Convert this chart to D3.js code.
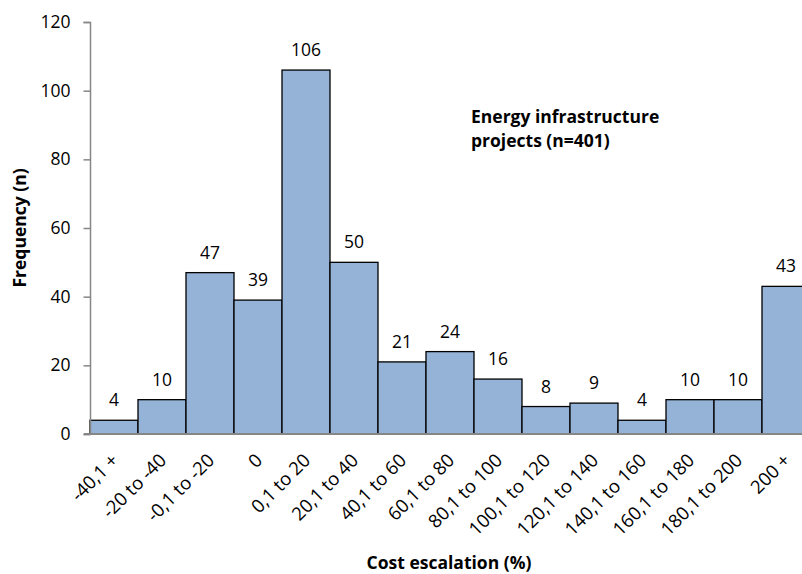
<!DOCTYPE html>
<html>
<head>
<meta charset="utf-8">
<script src="https://cdn.jsdelivr.net/npm/d3@7"></script>
<style>
  html, body { margin: 0; padding: 0; background: #fff; }
  svg { display: block; font-family: "Open Sans", "Noto Sans", sans-serif; }
</style>
</head>
<body>
<svg id="chart" width="802" height="574"></svg>
<script>
// Cost escalation bins and project counts
const categories = ["-40,1 +", "-20 to -40", "-0,1 to -20", "0", "0,1 to 20", "20,1 to 40",
  "40,1 to 60", "60,1 to 80", "80,1 to 100", "100,1 to 120", "120,1 to 140",
  "140,1 to 160", "160,1 to 180", "180,1 to 200", "200 +"];
const frequency = [4, 10, 47, 39, 106, 50, 21, 24, 16, 8, 9, 4, 10, 10, 43];
const yTicks = [0, 20, 40, 60, 80, 100, 120];
const titleLines = ["Energy infrastructure", "projects (n=401)"];
const xTitle = "Cost escalation (%)";
const yTitle = "Frequency (n)";

const svg = d3.select("#chart");
const plotLeft = 90, plotRight = 810, plotTop = 22, plotBottom = 434;
const fs = 17.5;

const x = d3.scaleBand().domain(categories).range([plotLeft, plotRight]).padding(0);
const y = d3.scaleLinear().domain([0, 120]).range([plotBottom, plotTop]);

// bars
svg.append("g").selectAll("rect")
  .data(categories)
  .join("rect")
  .attr("x", d => x(d))
  .attr("y", (d, i) => y(frequency[i]))
  .attr("width", x.bandwidth())
  .attr("height", (d, i) => y(0) - y(frequency[i]))
  .attr("fill", "#95b3d7")
  .attr("stroke", "#000")
  .attr("stroke-width", 1.3);

// value labels
svg.append("g").selectAll("text")
  .data(categories)
  .join("text")
  .attr("x", d => x(d) + x.bandwidth() / 2)
  .attr("y", (d, i) => y(frequency[i]) - 14)
  .attr("text-anchor", "middle")
  .attr("font-size", fs)
  .attr("fill", "#000")
  .text((d, i) => frequency[i]);

// y axis
const yAxis = svg.append("g")
  .attr("transform", `translate(${plotLeft},0)`)
  .call(d3.axisLeft(y).tickValues(yTicks).tickSize(6.5).tickPadding(13));
yAxis.select(".domain").attr("stroke", "#868686").attr("stroke-width", 1.5);
yAxis.selectAll(".tick line").attr("stroke", "#868686").attr("stroke-width", 1.5);
yAxis.selectAll(".tick text").attr("font-size", fs).attr("fill", "#000")
  .attr("font-family", "'Open Sans', sans-serif");

// x axis baseline
const xAxis = svg.append("g")
  .attr("transform", `translate(0,${plotBottom})`)
  .call(d3.axisBottom(x).tickSize(0).tickFormat(""));
xAxis.select(".domain").attr("stroke", "#868686").attr("stroke-width", 2)
  .attr("d", `M${plotLeft - 6},0H${plotRight}`);

// rotated category labels
svg.append("g").selectAll("text")
  .data(categories)
  .join("text")
  .attr("transform", d => `translate(${x(d) + x.bandwidth() / 2 + 1},${plotBottom + 23}) rotate(-45)`)
  .attr("text-anchor", "end")
  .attr("dy", "0.35em")
  .attr("font-size", 18.5)
  .attr("fill", "#000")
  .text(d => d);

// axis titles
svg.append("text")
  .attr("x", 449).attr("y", 569)
  .attr("text-anchor", "middle")
  .attr("font-size", 17.5).attr("font-weight", "bold")
  .text(xTitle);

svg.append("text")
  .attr("transform", "translate(26,228) rotate(-90)")
  .attr("text-anchor", "middle")
  .attr("font-size", 17.5).attr("font-weight", "bold")
  .text(yTitle);

// annotation
svg.append("g").selectAll("text")
  .data(titleLines)
  .join("text")
  .attr("x", 471)
  .attr("y", (d, i) => 122.5 + i * 24.5)
  .attr("font-size", 17.5).attr("font-weight", "bold")
  .text(d => d);
</script>
</body>
</html>
